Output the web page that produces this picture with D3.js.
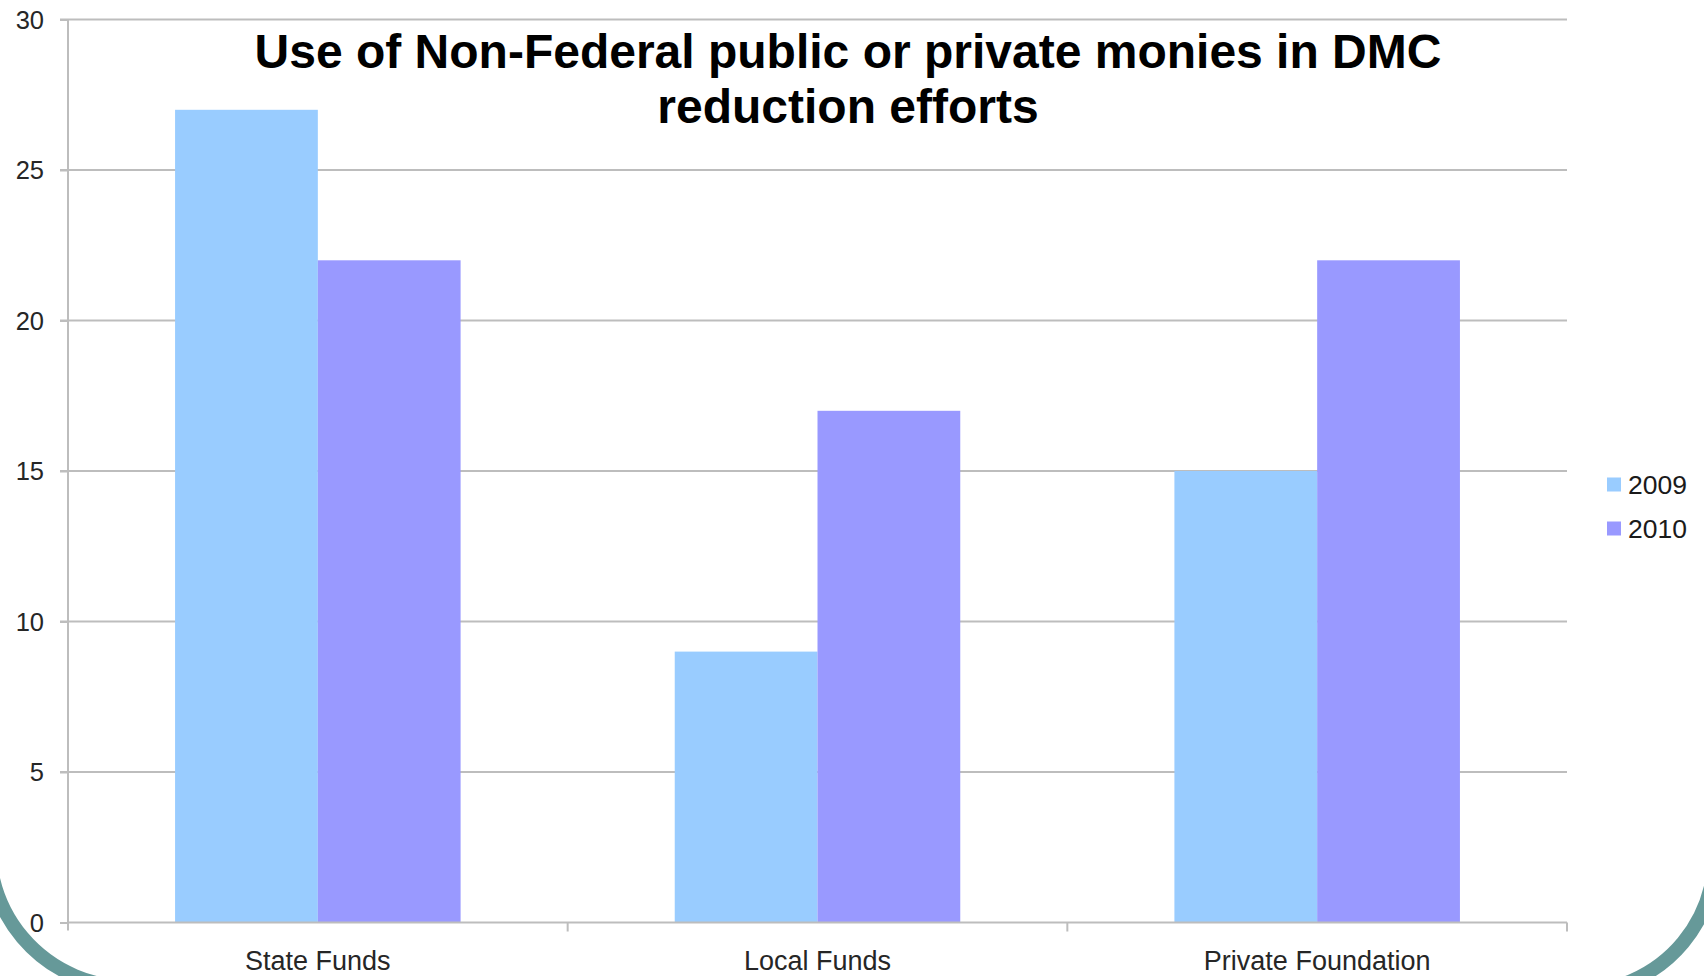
<!DOCTYPE html>
<html>
<head>
<meta charset="utf-8">
<script src="https://cdn.jsdelivr.net/npm/d3@7"></script>
<style>
  html, body { margin: 0; padding: 0; background: #fff; }
  svg { display: block; font-family: "Liberation Sans", Arial, sans-serif; }
</style>
</head>
<body>
<svg id="chart" width="1704" height="976"></svg>
<script>
const categories = ["State Funds", "Local Funds", "Private Foundation"];
const seriesNames = ["2009", "2010"];
const values2009 = [27, 9, 15];
const values2010 = [22, 17, 22];
const yTicks = [0, 5, 10, 15, 20, 25, 30];
const titleLines = ["Use of Non-Federal public or private monies in DMC", "reduction efforts"];
const colors = ["#99CCFF", "#9999FF"];

const seriesValues = [values2009, values2010];

const svg = d3.select("#chart");
const W = 1704, H = 976;
const pLeft = 68, pRight = 1567, pTop = 19.5, pBottom = 922.5;

svg.append("rect").attr("width", W).attr("height", H).attr("fill", "#fff");

const x = d3.scaleBand().domain(categories).range([pLeft, pRight]).paddingInner(0).paddingOuter(0);
const xs = d3.scaleBand().domain(seriesNames).range([0, x.bandwidth()]).paddingInner(0).paddingOuter(0.75);
const y = d3.scaleLinear().domain([0, 30]).range([pBottom, pTop]);

// gridlines
svg.append("g").selectAll("line").data(yTicks.filter(d => d > 0)).join("line")
  .attr("x1", pLeft - 8).attr("x2", pRight)
  .attr("y1", d => y(d)).attr("y2", d => y(d))
  .attr("stroke", "#bdbdbd").attr("stroke-width", 2);

// bars
const rows = categories.map((c, i) => ({ cat: c, vals: seriesNames.map((s, j) => ({ s, j, v: seriesValues[j][i] })) }));
svg.append("g").selectAll("g").data(rows).join("g")
  .attr("transform", d => `translate(${x(d.cat)},0)`)
  .selectAll("rect").data(d => d.vals).join("rect")
  .attr("x", d => xs(d.s))
  .attr("width", xs.bandwidth())
  .attr("y", d => y(d.v))
  .attr("height", d => y(0) - y(d.v))
  .attr("fill", d => colors[d.j]);

// y axis
const yAxis = svg.append("g").attr("transform", `translate(${pLeft},0)`)
  .call(d3.axisLeft(y).tickValues(yTicks).tickSize(8).tickPadding(16).tickFormat(d3.format("d")));
yAxis.select(".domain").attr("d", `M0,${pTop}V${pBottom + 8}`).attr("stroke", "#bdbdbd").attr("stroke-width", 2);
yAxis.selectAll(".tick line").attr("stroke", "#bdbdbd").attr("stroke-width", 2);
yAxis.selectAll(".tick text").attr("font-size", 25.5).attr("fill", "#262626")
  .attr("font-family", "'Liberation Sans', Arial, sans-serif").attr("dy", "0.35em");

// x axis
const xAxis = svg.append("g").attr("transform", `translate(0,${pBottom})`)
  .call(d3.axisBottom(x).tickSize(0).tickPadding(38));
xAxis.select(".domain").attr("d", `M${pLeft},0H${pRight}`).attr("stroke", "#bdbdbd").attr("stroke-width", 2);
xAxis.selectAll(".tick text").attr("font-size", 27).attr("fill", "#262626")
  .attr("font-family", "'Liberation Sans', Arial, sans-serif").attr("dy", "0.35em");
// category boundary ticks
const bounds = categories.map(c => x(c) + x.bandwidth());
xAxis.append("g").selectAll("line").data(bounds).join("line")
  .attr("x1", d => d).attr("x2", d => d).attr("y1", 0).attr("y2", 9)
  .attr("stroke", "#bdbdbd").attr("stroke-width", 2);

// title
svg.append("g").selectAll("text").data(titleLines).join("text")
  .attr("x", 848).attr("y", (d, i) => 68 + i * 55)
  .attr("text-anchor", "middle")
  .attr("font-size", 48).attr("font-weight", "bold").attr("fill", "#000")
  .text(d => d);

// legend
const lg = svg.append("g").selectAll("g").data(seriesNames).join("g")
  .attr("transform", (d, i) => `translate(1607,${484.5 + i * 44})`);
lg.append("rect").attr("x", 0).attr("y", -7).attr("width", 14).attr("height", 14)
  .attr("fill", (d, i) => colors[i]);
lg.append("text").attr("x", 21).attr("y", 0).attr("dy", "0.35em")
  .attr("font-size", 26.5).attr("fill", "#1a1a1a").text(d => d);

// slide frame decoration (rounded corners)
svg.append("path")
  .attr("d", "M -8 820 A 140 140 0 0 0 133 987")
  .attr("fill", "none").attr("stroke", "#669999").attr("stroke-width", 14);
svg.append("path")
  .attr("d", "M 1712 828 A 137 137 0 0 1 1576 992")
  .attr("fill", "none").attr("stroke", "#669999").attr("stroke-width", 14);
</script>
</body>
</html>
